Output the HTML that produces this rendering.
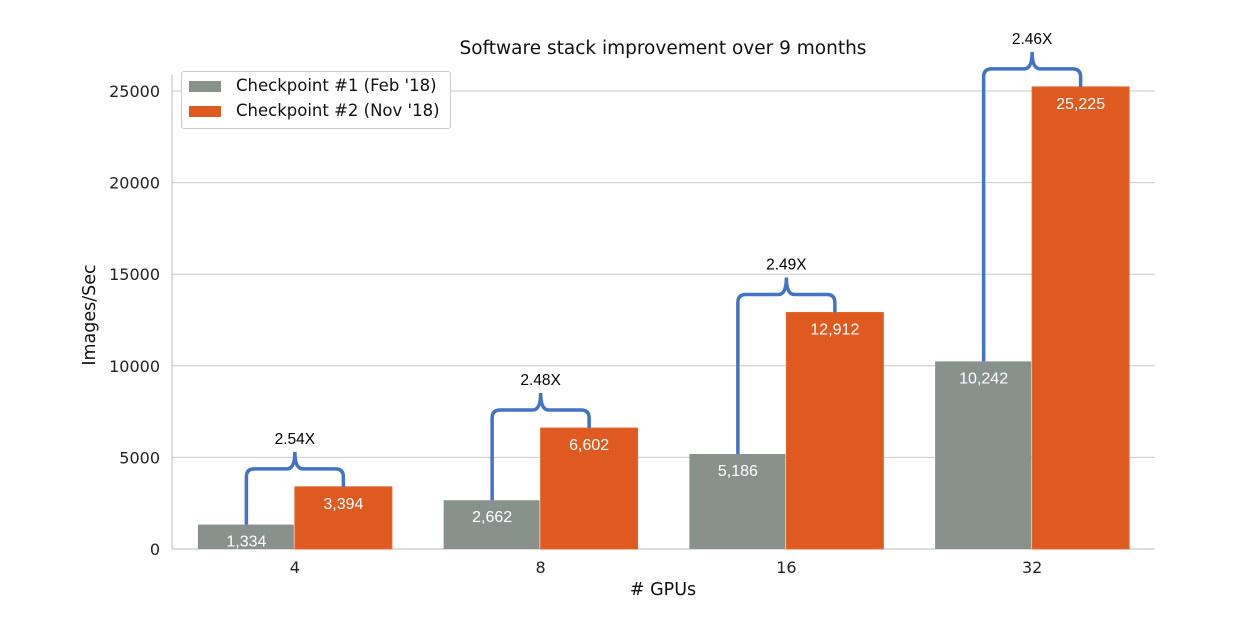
<!DOCTYPE html>
<html><head><meta charset="utf-8"><style>
body{margin:0;background:#fff;width:1244px;height:622px;overflow:hidden;font-family:"DejaVu Sans","Liberation Sans",sans-serif}
</style></head><body>
<svg id="chart" width="1244" height="622" xmlns="http://www.w3.org/2000/svg" font-family="DejaVu Sans, Liberation Sans, sans-serif"></svg>
<script>
const categories=["4","8","16","32"];
const series1=[1334,2662,5186,10242];
const series2=[3394,6602,12912,25225];
const labels1=["1,334","2,662","5,186","10,242"];
const labels2=["3,394","6,602","12,912","25,225"];
const ratios=["2.54X","2.48X","2.49X","2.46X"];
const yTicks=[0,5000,10000,15000,20000,25000];
const svg=document.getElementById('chart');
const NS='http://www.w3.org/2000/svg';
function mk(t,a,p){const e=document.createElementNS(NS,t);for(const k in a)e.setAttribute(k,a[k]);(p||svg).appendChild(e);return e;}
const x0=172,x1=1155,yBase=549,yScale=(549-91)/25000;
const y=v=>yBase-v*yScale;
const groupW=(x1-x0)/categories.length, barW=97;
const gc=i=>x0+groupW*(i+0.5);
yTicks.forEach(t=>{
  const l=mk('line',{x1:x0,x2:x1,y1:y(t),y2:y(t),stroke:'#c8c8c8','stroke-width':1});
  
  const tx=mk('text',{x:160,y:y(t)+6,'text-anchor':'end','font-size':16,fill:'#222'});tx.textContent=t;
  
});
const ax=mk('line',{x1:x0,x2:x0,y1:75,y2:yBase,stroke:'#bbb'});

const bx=mk('line',{x1:x0,x2:x1,y1:yBase,y2:yBase,stroke:'#bbb'});

categories.forEach((c,i)=>{
  const cx=gc(i);
  const b1=mk('rect',{x:cx-barW,y:y(series1[i]),width:barW-1,height:yBase-y(series1[i]),fill:'#89918d'});
  
  const b2=mk('rect',{x:cx,y:y(series2[i]),width:barW,height:yBase-y(series2[i]),fill:'#de5a20',stroke:'#e06a30'});
  
  const t1=mk('text',{x:cx-barW/2,y:y(series1[i])+22,'text-anchor':'middle','font-size':16,fill:'#fff','font-family':'Liberation Sans, sans-serif'});t1.textContent=labels1[i];
  
  const t2=mk('text',{x:cx+barW/2,y:y(series2[i])+22,'text-anchor':'middle','font-size':16,fill:'#fff','font-family':'Liberation Sans, sans-serif'});t2.textContent=labels2[i];
  
  const lx=cx-barW/2,rx=cx+barW/2,ly=y(series1[i]),ry=y(series2[i]),hy=ry-18,mx=cx,ty=hy-17,r=8;
  const d=`M${lx},${ly} L${lx},${hy+r} Q${lx},${hy} ${lx+r},${hy} L${mx-r},${hy} Q${mx},${hy} ${mx},${ty} Q${mx},${hy} ${mx+r},${hy} L${rx-r},${hy} Q${rx},${hy} ${rx},${hy+r} L${rx},${ry}`;
  const br=mk('path',{d:d,fill:'none',stroke:'#4472c4','stroke-width':3.5});
  
  const rt=mk('text',{x:mx,y:ty-8,'text-anchor':'middle','font-size':15.5,fill:'#000','font-family':'Liberation Sans, sans-serif'});rt.textContent=ratios[i];
  
  const xt=mk('text',{x:cx,y:yBase+24,'text-anchor':'middle','font-size':16,fill:'#222'});xt.textContent=c;
  
});
</script>
<div style="position:absolute;left:0;top:38px;width:1326px;text-align:center;font-size:18.5px;color:#111">Software stack improvement over 9 months</div>
<div style="position:absolute;left:563px;top:580px;width:200px;text-align:center;font-size:17.5px;color:#111"># GPUs</div>
<div style="position:absolute;left:30px;top:305px;width:120px;text-align:center;font-size:17.5px;color:#111;transform:rotate(-90deg)">Images/Sec</div>
<div style="position:absolute;left:181px;top:71px;width:268px;height:56px;border:1px solid #ccc;border-radius:3px;background:#fff;font-size:16.5px;color:#111">
 <div style="position:absolute;left:7px;top:4px;white-space:nowrap"><span style="display:inline-block;width:32px;height:11px;background:#89918d;margin-right:15px;vertical-align:-1px"></span>Checkpoint #1 (Feb '18)</div>
 <div style="position:absolute;left:7px;top:29px;white-space:nowrap"><span style="display:inline-block;width:32px;height:11px;background:#de5a20;margin-right:15px;vertical-align:-1px"></span>Checkpoint #2 (Nov '18)</div>
</div>
</body></html>
